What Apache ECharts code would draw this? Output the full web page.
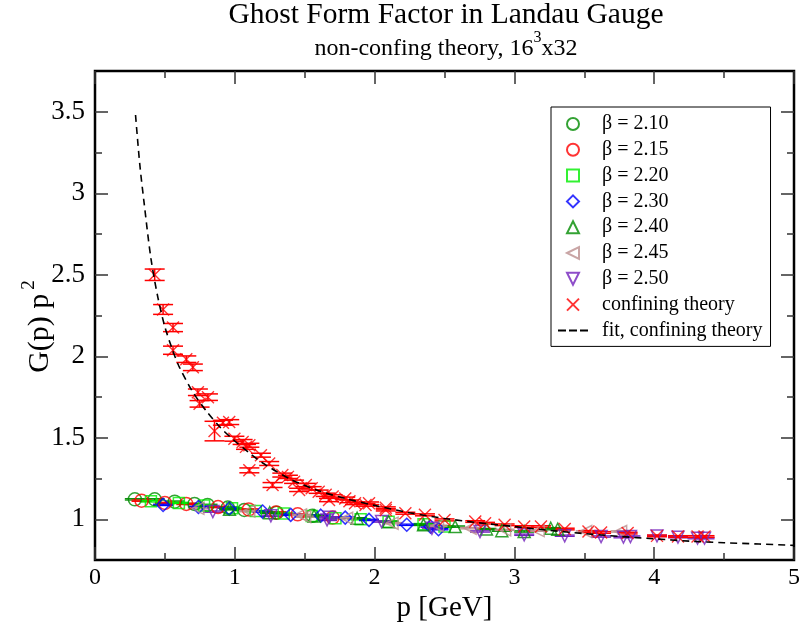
<!DOCTYPE html>
<html><head><meta charset="utf-8">
<script src="https://cdn.jsdelivr.net/npm/echarts@6/dist/echarts.min.js"></script>
<style>html,body{margin:0;padding:0;background:#fff}#c{width:803px;height:628px}</style>
</head><body><div id="c"></div>
<script>
// ---- data ----
const xTicks = [0, 1, 2, 3, 4, 5];
const yTicks = [1, 1.5, 2, 2.5, 3, 3.5];
const yMinorTicks = [1.25, 1.75, 2.25, 2.75, 3.25];

const b210 = [[0.285,1.122],[0.427,1.122],[0.57,1.108],[0.712,1.094],[0.805,1.088],[0.95,1.072],[1.068,1.057],[1.30,1.040],[1.555,1.021]];
const b215 = [[0.333,1.114],[0.50,1.100],[0.653,1.094],[0.88,1.075],[1.10,1.060],[1.294,1.041],[1.45,1.030],[1.70,1.010]];
const b220 = [[0.40,1.110],[0.60,1.100],[0.78,1.085],[0.98,1.068],[1.15,1.050],[1.35,1.035],[1.55,1.020],[1.72,1.006],[1.90,1.000],[2.10,0.985],[2.35,0.970],[2.50,0.955]];
const b230 = [[0.487,1.088],[0.74,1.075],[0.96,1.065],[1.199,1.047],[1.40,1.027],[1.615,1.022],[1.79,1.010],[1.96,0.996],[2.23,0.966],[2.40,0.955],[2.457,0.939]];
const b240 = [[0.962,1.061],[1.25,1.040],[1.567,1.020],[1.875,1.006],[2.10,0.985],[2.35,0.966],[2.576,0.955],[2.80,0.940],[2.91,0.930],[3.07,0.925],[3.26,0.945],[3.31,0.939]];
const b245 = [[0.736,1.067],[1.10,1.050],[1.47,1.027],[1.50,1.016],[1.80,1.006],[2.125,0.976],[2.45,0.960],[2.683,0.945],[2.93,0.935],[3.17,0.930],[3.51,0.925],[3.76,0.925]];
const b250 = [[0.843,1.047],[1.258,1.021],[1.66,0.996],[1.674,1.012],[2.05,0.986],[2.41,0.945],[2.754,0.925],[3.07,0.905],[3.36,0.899],[3.62,0.894],[3.78,0.890],[3.83,0.894],[4.02,0.898],[4.17,0.890],[4.31,0.884],[4.36,0.884]];
const betaErr = 0.004;

const confP = [0.427,0.487,0.558,0.558,0.653,0.700,0.736,0.748,0.808,0.855,0.915,0.960,0.997,1.056,1.080,1.104,1.104,1.187,1.246,1.270,1.340,1.380,1.424,1.460,1.508,1.550,1.600,1.650,1.674,1.700,1.790,1.820,1.860,1.935,1.960,2.080,2.080,2.220,2.360,2.500,2.720,2.790,2.930,3.070,3.190,3.360,3.530,3.620,3.810,4.020,4.170,4.310,4.360];
const confG = [2.500,2.287,2.176,2.037,1.982,1.932,1.779,1.708,1.749,1.541,1.592,1.596,1.494,1.474,1.444,1.454,1.300,1.393,1.342,1.210,1.271,1.260,1.230,1.180,1.210,1.190,1.169,1.150,1.118,1.140,1.128,1.110,1.098,1.088,1.098,1.070,1.057,1.037,1.027,0.996,0.986,0.976,0.966,0.955,0.955,0.940,0.925,0.919,0.915,0.898,0.894,0.894,0.894];
const confE = [0.035,0.030,0.025,0.025,0.020,0.020,0.020,0.020,0.020,0.060,0.015,0.015,0.015,0.015,0.015,0.012,0.015,0.012,0.012,0.015,0.012,0.010,0.010,0.010,0.010,0.010,0.010,0.010,0.010,0.010,0.008,0.008,0.008,0.008,0.008,0.006,0.006,0.006,0.006,0.006,0.005,0.005,0.005,0.005,0.005,0.005,0.005,0.005,0.005,0.005,0.005,0.005,0.005];

const fitP = [0.29,0.32,0.35,0.40,0.45,0.50,0.55,0.60,0.70,0.80,0.90,1.00,1.10,1.20,1.40,1.60,1.80,2.00,2.25,2.50,2.75,3.00,3.25,3.50,3.75,4.00,4.25,4.50,4.75,5.00];
const fitG = [3.48,3.18,2.95,2.60,2.36,2.18,2.05,1.94,1.78,1.66,1.56,1.48,1.41,1.345,1.245,1.175,1.125,1.085,1.04,1.005,0.978,0.955,0.932,0.912,0.895,0.88,0.866,0.856,0.848,0.84];

// ---- chart ----
const FONT = 'Liberation Serif';
const chart = echarts.init(document.getElementById('c'), null, {renderer: 'canvas'});

const SYM = {
  circle: 'circle',
  square: 'path://M0,0H10V10H0Z',
  diamond: 'path://M5,0L10,5L5,10L0,5Z',
  up: 'path://M5,0L10,10L0,10Z',
  left: 'path://M0,5L10,0L10,10Z',
  down: 'path://M0,0L10,0L5,10Z',
  cross: 'path://M0,0L10,10M10,0L0,10'
};

function errSeries(points, color, capHalf, lw) {
  return {
    type: 'custom', silent: true, z: 2,
    data: points,
    encode: {x: 0, y: 1},
    renderItem: function (params, api) {
      const x = api.value(0), y = api.value(1), e = api.value(2);
      const t = api.coord([x, y + e]);
      const b = api.coord([x, y - e]);
      const st = {stroke: color, lineWidth: lw};
      return {type: 'group', children: [
        {type: 'line', shape: {x1: t[0], y1: t[1], x2: b[0], y2: b[1]}, style: st},
        {type: 'line', shape: {x1: t[0] - capHalf, y1: t[1], x2: t[0] + capHalf, y2: t[1]}, style: st},
        {type: 'line', shape: {x1: b[0] - capHalf, y1: b[1], x2: b[0] + capHalf, y2: b[1]}, style: st}
      ]};
    }
  };
}
function withErr(arr, e) { return arr.map(d => [d[0], d[1], e]); }

const betaDefs = [
  {name: 'β = 2.10', data: b210, color: '#008b00', symbol: SYM.circle, size: 13},
  {name: 'β = 2.15', data: b215, color: '#ff0000', symbol: SYM.circle, size: 13},
  {name: 'β = 2.20', data: b220, color: '#00ee00', symbol: SYM.square, size: 11},
  {name: 'β = 2.30', data: b230, color: '#0000ff', symbol: SYM.diamond, size: 13},
  {name: 'β = 2.40', data: b240, color: '#008b00', symbol: SYM.up, size: 12},
  {name: 'β = 2.45', data: b245, color: '#bc8f8f', symbol: SYM.left, size: 12},
  {name: 'β = 2.50', data: b250, color: '#7221bc', symbol: SYM.down, size: 12}
];

const series = [];
betaDefs.forEach(d => {
  series.push(errSeries(withErr(d.data, betaErr), d.color, 10, 1.3));
  series.push({
    name: d.name, type: 'scatter', data: d.data, z: 3,
    symbol: d.symbol, symbolSize: d.size, symbolKeepAspect: true,
    itemStyle: {color: 'rgba(0,0,0,0)', borderColor: d.color, borderWidth: 1.5}
  });
});
const confPts = confP.map((p, i) => [p, confG[i], confE[i]]);
series.push(errSeries(confPts, '#ff0000', 10, 1.5));
series.push({
  name: 'confining theory', type: 'scatter', z: 4,
  data: confP.map((p, i) => [p, confG[i]]),
  symbol: SYM.cross, symbolSize: 12,
  itemStyle: {color: 'rgba(0,0,0,0)', borderColor: '#ff0000', borderWidth: 1.4}
});
series.push({
  name: 'fit, confining theory', type: 'line', z: 6,
  data: fitP.map((p, i) => [p, fitG[i]]),
  symbol: 'none', smooth: 0.3, color: '#000',
  itemStyle: {color: '#000'},
  lineStyle: {color: '#000', width: 1.6, type: [7, 5]}
});

const tickStyle = {color: '#333', width: 1.5};
function xAx(pos, labels) {
  return {
    type: 'value', min: 0, max: 5, interval: 1, position: pos,
    axisLine: {show: false},
    axisTick: {show: true, inside: true, length: 13, lineStyle: tickStyle},
    minorTick: {show: true, splitNumber: 2, length: 7, lineStyle: tickStyle},
    splitLine: {show: false}, minorSplitLine: {show: false},
    axisLabel: labels ? {show: true, fontFamily: FONT, fontSize: 24, color: '#000', margin: 6} : {show: false},
    name: labels ? 'p [GeV]' : '', nameLocation: 'middle', nameGap: 34, nameMoveOverlap: false,
    nameTextStyle: {fontFamily: FONT, fontSize: 29, color: '#000'}
  };
}
function yAx(pos, vals, len, labels) {
  return {
    type: 'value', min: 0.75, max: 3.75, position: pos,
    axisLine: {show: false},
    axisTick: {show: true, inside: true, length: len, lineStyle: tickStyle, customValues: vals},
    splitLine: {show: false},
    axisLabel: labels ? {show: true, fontFamily: FONT, fontSize: 27, color: '#000', margin: 10, customValues: vals} : {show: false, customValues: vals},
    name: labels ? 'G(p) p{sup|2}' : '', nameLocation: 'middle', nameGap: 34, nameRotate: 90, nameMoveOverlap: false,
    nameTextStyle: {fontFamily: FONT, fontSize: 30, color: '#000', padding: [0, 22, 0, 0],
      rich: {sup: {fontFamily: FONT, fontSize: 19, color: '#000', padding: [0, 0, 22, 4]}}}
  };
}

chart.setOption({
  animation: false,
  backgroundColor: '#fff',
  title: [
    {text: 'Ghost Form Factor in Landau Gauge', left: 446, top: 0, textAlign: 'center', padding: 0,
     textStyle: {fontFamily: FONT, fontSize: 29.5, fontWeight: 'normal', color: '#000'}},
    {text: 'non-confing theory, 16{sup|3}x32', left: 446, top: 30, textAlign: 'center', padding: 0,
     textStyle: {fontFamily: FONT, fontSize: 24, fontWeight: 'normal', color: '#000',
       rich: {sup: {fontFamily: FONT, fontSize: 16, color: '#000', padding: [0, 0, 22, 0]}}}}
  ],
  grid: {left: 95, top: 71, width: 702, height: 492, show: true, borderColor: '#000', borderWidth: 2.5, backgroundColor: 'rgba(0,0,0,0)', containLabel: false},
  xAxis: [xAx('bottom', true), xAx('top', false)],
  yAxis: [yAx('left', yTicks, 13, true), yAx('left', yMinorTicks, 7, false), yAx('right', yTicks, 13, false), yAx('right', yMinorTicks, 7, false)],
  legend: {
    orient: 'vertical', left: 551, top: 107, padding: [7, 8, 6, 7],
    itemWidth: 30, itemHeight: 12, itemGap: 5.8, symbolKeepAspect: true,
    backgroundColor: '#fff', borderColor: '#000', borderWidth: 1, borderRadius: 0,
    data: betaDefs.map(d => d.name).concat(['confining theory',
      {name: 'fit, confining theory', icon: 'path://M0,0h8v2h-8z M11,0h8v2h-8z M22,0h8v2h-8z'}]),
    textStyle: {fontFamily: FONT, fontSize: 20, lineHeight: 20, color: '#000', padding: [0, 0, 0, 9]}
  },
  series: series
});
</script></body></html>
